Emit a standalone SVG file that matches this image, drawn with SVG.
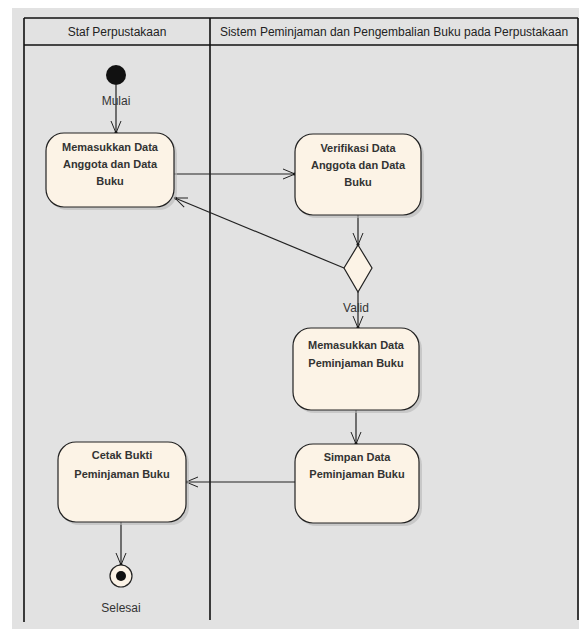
<svg xmlns="http://www.w3.org/2000/svg" width="582" height="631" viewBox="0 0 582 631">
<defs>
<style>
.lane{fill:none;stroke:#111;stroke-width:1.6}
.hdr{font-family:"Liberation Sans Narrow","Liberation Sans",Arial,sans-serif;font-size:12px;fill:#222;text-anchor:middle}
.act{fill:#fcf3e6;stroke:#222;stroke-width:1.2}
.shadow{fill:#b8b8b8;opacity:0.6}
.t{font-family:"Liberation Sans Narrow","Liberation Sans",Arial,sans-serif;font-size:11px;font-weight:bold;fill:#333;text-anchor:middle}
.lbl{font-family:"Liberation Sans",Arial,sans-serif;font-size:12px;fill:#333;text-anchor:middle}
.edge{fill:none;stroke:#222;stroke-width:1.2}
</style>
<marker id="arr" viewBox="0 0 14 12" refX="13" refY="6" markerWidth="14" markerHeight="12" markerUnits="userSpaceOnUse" orient="auto">
<path d="M1,1 L13,6 L1,11" fill="none" stroke="#222" stroke-width="1"/>
<circle cx="12.5" cy="6" r="1.5" fill="#111"/>
</marker>
</defs>
<rect x="0" y="0" width="582" height="631" fill="#ffffff"/>
<rect x="12" y="8" width="567" height="621" fill="#e2e2e2"/>
<g id="lanes">
<line class="lane" x1="24" y1="18" x2="578" y2="18"/>
<line class="lane" x1="24" y1="45" x2="578" y2="45"/>
<line class="lane" x1="24" y1="18" x2="24" y2="622"/>
<line class="lane" x1="210" y1="18" x2="210" y2="620"/>
<line class="lane" x1="578" y1="18" x2="578" y2="620"/>
<text class="hdr" x="117" y="36">Staf Perpustakaan</text>
<text class="hdr" x="394" y="36">Sistem Peminjaman dan Pengembalian Buku pada Perpustakaan</text>
</g>
<g id="connectors">
<line class="edge" x1="116" y1="85" x2="116" y2="133" marker-end="url(#arr)"/>
<line class="edge" x1="174" y1="174" x2="295" y2="174" marker-end="url(#arr)"/>
<line class="edge" x1="358" y1="215" x2="358" y2="245" marker-end="url(#arr)"/>
<line class="edge" x1="344" y1="268" x2="175" y2="198" marker-end="url(#arr)"/>
<line class="edge" x1="358" y1="292" x2="358" y2="328" marker-end="url(#arr)"/>
<line class="edge" x1="356" y1="410" x2="356" y2="444" marker-end="url(#arr)"/>
<line class="edge" x1="295" y1="482" x2="186" y2="482" marker-end="url(#arr)"/>
<line class="edge" x1="121" y1="522" x2="121" y2="565" marker-end="url(#arr)"/>
</g>
<g id="start">
<circle cx="116" cy="75" r="10" fill="#111"/>
<text class="lbl" x="116" y="105">Mulai</text>
</g>
<g id="act1">
<rect class="shadow" x="49" y="136" width="128" height="74" rx="18"/>
<rect class="act" x="46" y="133" width="128" height="74" rx="18"/>
<text class="t" x="110" y="151">Memasukkan Data</text>
<text class="t" x="110" y="168">Anggota dan Data</text>
<text class="t" x="110" y="185">Buku</text>
</g>
<g id="act2">
<rect class="shadow" x="298" y="137" width="126" height="81" rx="18"/>
<rect class="act" x="295" y="134" width="126" height="81" rx="18"/>
<text class="t" x="358" y="152">Verifikasi Data</text>
<text class="t" x="358" y="169">Anggota dan Data</text>
<text class="t" x="358" y="186">Buku</text>
</g>
<g id="decision">
<polygon class="act" points="358,245 372,268 358,292 344,268"/>
<text class="lbl" x="356" y="312">Valid</text>
</g>
<g id="act3">
<rect class="shadow" x="296" y="331" width="126" height="82" rx="18"/>
<rect class="act" x="293" y="328" width="126" height="82" rx="18"/>
<text class="t" x="356" y="349">Memasukkan Data</text>
<text class="t" x="356" y="367">Peminjaman Buku</text>
</g>
<g id="act4">
<rect class="shadow" x="298" y="447" width="124" height="79" rx="18"/>
<rect class="act" x="295" y="444" width="124" height="79" rx="18"/>
<text class="t" x="357" y="461">Simpan Data</text>
<text class="t" x="357" y="478">Peminjaman Buku</text>
</g>
<g id="act5">
<rect class="shadow" x="61" y="445" width="128" height="80" rx="18"/>
<rect class="act" x="58" y="442" width="128" height="80" rx="18"/>
<text class="t" x="122" y="459">Cetak Bukti</text>
<text class="t" x="122" y="478">Peminjaman Buku</text>
</g>
<g id="end">
<circle cx="121" cy="576" r="11" fill="#fcf3e6" stroke="#222" stroke-width="1.2"/>
<circle cx="121" cy="576" r="5" fill="#111"/>
<text class="lbl" x="121" y="612">Selesai</text>
</g>
</svg>
